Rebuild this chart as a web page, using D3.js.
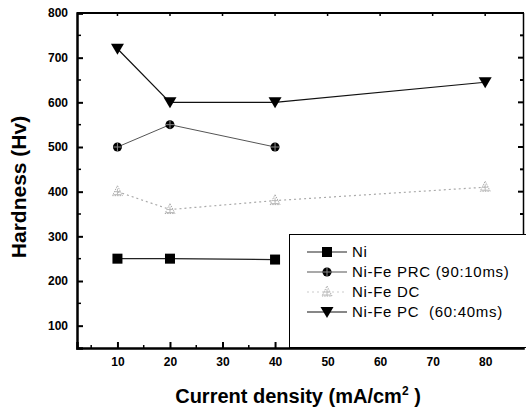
<!DOCTYPE html>
<html>
<head>
<meta charset="utf-8">
<script src="https://cdn.jsdelivr.net/npm/d3@7"></script>
<style>
  body { margin: 0; background: white; }
</style>
</head>
<body>
<div id="container"></div>
<script>
let w = 526;
let h = 412;

// data
let currents = [10, 20, 40, 80];
let niValues = [250, 250, 248];
let prcValues = [500, 550, 500];
let dcValues = [400, 360, 380, 410];
let pcValues = [720, 600, 600, 645];
let seriesNames = ["Ni", "Ni-Fe PRC (90:10ms)", "Ni-Fe DC", "Ni-Fe PC  (60:40ms)"];
let xTicks = [10, 20, 30, 40, 50, 60, 70, 80];
let yTicks = [100, 200, 300, 400, 500, 600, 700, 800];

let viz = d3.select("#container")
  .append("svg")
  .attr("width", w)
  .attr("height", h)
  .style("background-color", "white");

let xScale = d3.scaleLinear().domain([2.3, 87.2]).range([77, 523]);
let yScale = d3.scaleLinear().domain([50, 800]).range([348, 13]);

let tickFont = "'Liberation Sans', Arial, sans-serif";

// frame
viz.append("line").attr("x1", 77).attr("x2", 524).attr("y1", 13).attr("y2", 13)
  .attr("stroke", "black").attr("stroke-width", 2);
viz.append("line").attr("x1", 523.5).attr("x2", 523.5).attr("y1", 13).attr("y2", 348)
  .attr("stroke", "black").attr("stroke-width", 1.5);

// x axis, ticks pointing in
let xAxis = d3.axisBottom(xScale)
  .tickValues(xTicks)
  .tickSize(-6)
  .tickPadding(9)
  .tickFormat(d3.format("d"));
let gx = viz.append("g").attr("transform", "translate(0,348)").call(xAxis);
gx.select(".domain").attr("stroke-width", 2.5);
gx.selectAll(".tick line").attr("stroke-width", 2);
gx.selectAll("text")
  .style("font-family", tickFont)
  .style("font-weight", "bold")
  .style("font-size", "12px");

// minor x ticks
viz.selectAll(".xminor").data(d3.range(5, 90, 10)).enter()
  .append("line")
  .attr("class", "xminor")
  .attr("x1", function(d) { return xScale(d); })
  .attr("x2", function(d) { return xScale(d); })
  .attr("y1", 348).attr("y2", 345)
  .attr("stroke", "black").attr("stroke-width", 1.5);

// top ticks
viz.selectAll(".xtop").data(xTicks).enter()
  .append("line")
  .attr("x1", function(d) { return xScale(d); })
  .attr("x2", function(d) { return xScale(d); })
  .attr("y1", 13).attr("y2", 16)
  .attr("stroke", "black").attr("stroke-width", 1.5);

// y axis, ticks pointing in
let yAxis = d3.axisLeft(yScale)
  .tickValues(yTicks)
  .tickSize(-6)
  .tickPadding(9)
  .tickFormat(d3.format("d"));
let gy = viz.append("g").attr("transform", "translate(77,0)").call(yAxis);
gy.select(".domain").attr("stroke-width", 2.5);
gy.selectAll(".tick line").attr("stroke-width", 2);
gy.selectAll("text")
  .style("font-family", tickFont)
  .style("font-weight", "bold")
  .style("font-size", "12px");

// minor y ticks, both sides
viz.selectAll(".yminor").data(d3.range(150, 800, 100)).enter()
  .append("line")
  .attr("x1", 77).attr("x2", 81)
  .attr("y1", function(d) { return yScale(d); })
  .attr("y2", function(d) { return yScale(d); })
  .attr("stroke", "black").attr("stroke-width", 1.5);
viz.selectAll(".yright").data(d3.range(150, 800, 50)).enter()
  .append("line")
  .attr("x1", 523).attr("x2", function(d) { return d % 100 == 0 ? 518 : 520; })
  .attr("y1", function(d) { return yScale(d); })
  .attr("y2", function(d) { return yScale(d); })
  .attr("stroke", "black").attr("stroke-width", 2);

// titles
viz.append("text")
  .text("Hardness (Hv)")
  .attr("transform", "translate(26,187) rotate(-90)")
  .attr("text-anchor", "middle")
  .style("font-family", "'Liberation Sans', Arial, sans-serif")
  .style("font-weight", "bold")
  .style("font-size", "21px");

let xTitle = viz.append("text")
  .attr("x", 298)
  .attr("y", 403)
  .attr("text-anchor", "middle")
  .style("font-family", "'Liberation Sans', Arial, sans-serif")
  .style("font-weight", "bold")
  .style("font-size", "20px");
xTitle.append("tspan").text("Current density (mA/cm");
xTitle.append("tspan").text("2").attr("dy", -8).style("font-size", "12px");
xTitle.append("tspan").text(" )").attr("dy", 8);

// lines
let line = d3.line()
  .x(function(d) { return xScale(d[0]); })
  .y(function(d) { return yScale(d[1]); });

function pairs(values) {
  return values.map(function(v, i) { return [currents[i], v]; });
}

viz.append("path").datum(pairs(niValues)).attr("d", line)
  .attr("fill", "none").attr("stroke", "#222").attr("stroke-width", 1.2);
viz.append("path").datum(pairs(prcValues)).attr("d", line)
  .attr("fill", "none").attr("stroke", "#555").attr("stroke-width", 1);
viz.append("path").datum(pairs(dcValues)).attr("d", line)
  .attr("fill", "none").attr("stroke", "#aaa").attr("stroke-width", 1.2)
  .attr("stroke-dasharray", "2,3");
viz.append("path").datum(pairs(pcValues)).attr("d", line)
  .attr("fill", "none").attr("stroke", "#111").attr("stroke-width", 1.2);

// markers
function drawSquare(g) {
  g.append("rect").attr("x", -5).attr("y", -5).attr("width", 10).attr("height", 10)
    .attr("fill", "black");
}
function drawCircle(g) {
  g.append("circle").attr("r", 4.5).attr("fill", "black");
  g.append("path").attr("d", "M-4,0H4M0,-4V4").attr("stroke", "#888").attr("stroke-width", 1);
}
function drawTri(g) {
  g.append("path").attr("d", "M0,-6L5,4H-5Z").attr("fill", "none")
    .attr("stroke", "#aaa").attr("stroke-width", 1).attr("stroke-dasharray", "1.5,1");
  g.append("path").attr("d", "M-3,0H3M0,-3V4M-4,3H4").attr("stroke", "#bbb").attr("stroke-width", 1);
}
function drawDown(g) {
  g.append("path").attr("d", "M-6.5,-5H6.5L0,6Z").attr("fill", "black");
}

function markers(values, cls, drawer) {
  viz.selectAll("." + cls).data(pairs(values)).enter()
    .append("g")
    .attr("class", cls)
    .attr("transform", function(d) { return "translate(" + xScale(d[0]) + "," + yScale(d[1]) + ")"; })
    .each(function() { drawer(d3.select(this)); });
}

markers(niValues, "ni", drawSquare);
markers(prcValues, "prc", drawCircle);
markers(dcValues, "dc", drawTri);
markers(pcValues, "pc", drawDown);

// legend
viz.append("rect")
  .attr("x", 289.5).attr("y", 234.5)
  .attr("width", 260).attr("height", 113)
  .attr("fill", "white").attr("stroke", "black").attr("stroke-width", 1);

let legendStyles = [
  { stroke: "#222", dash: null, draw: drawSquare },
  { stroke: "#555", dash: null, draw: drawCircle },
  { stroke: "#ccc", dash: "2,3", draw: drawTri },
  { stroke: "#111", dash: null, draw: drawDown }
];

let legendItems = viz.selectAll(".legend").data(seriesNames).enter()
  .append("g")
  .attr("class", "legend")
  .attr("transform", function(d, i) { return "translate(0," + (252 + i * 20) + ")"; });

legendItems.append("line")
  .attr("x1", 307).attr("x2", 347).attr("y1", 0).attr("y2", 0)
  .attr("stroke", function(d, i) { return legendStyles[i].stroke; })
  .attr("stroke-dasharray", function(d, i) { return legendStyles[i].dash; })
  .attr("stroke-width", 1.2);

legendItems.each(function(d, i) {
  let g = d3.select(this).append("g").attr("transform", "translate(327,0)");
  legendStyles[i].draw(g);
});

legendItems.append("text")
  .text(function(d) { return d; })
  .attr("x", 352)
  .attr("y", 5)
  .style("font-family", "'Liberation Sans', Arial, sans-serif")
  .style("font-size", "15px")
  .style("letter-spacing", "0.7px")
  .style("white-space", "pre");
</script>
</body>
</html>
